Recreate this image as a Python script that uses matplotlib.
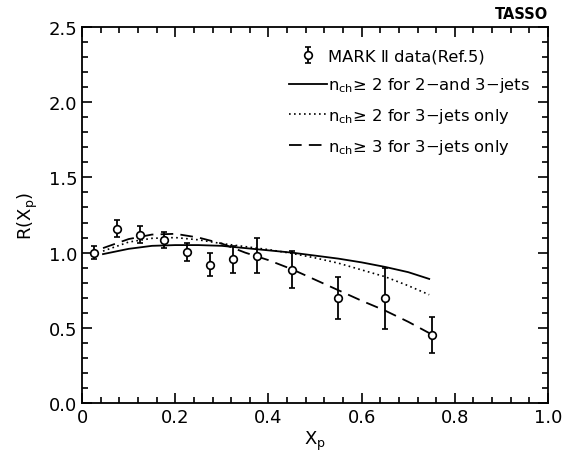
import matplotlib
matplotlib.use("Agg")
import matplotlib.pyplot as plt
import numpy as np
from matplotlib.ticker import MultipleLocator

plt.rcParams['font.family'] = ['DejaVu Sans']
plt.rcParams['mathtext.default'] = 'regular'

# MARK II data points
xp_data = [0.025, 0.075, 0.125, 0.175, 0.225, 0.275, 0.325, 0.375, 0.45, 0.55, 0.65, 0.75]
r_data = [1.00, 1.16, 1.12, 1.085, 1.005, 0.92, 0.955, 0.98, 0.885, 0.70, 0.695, 0.455]
r_err = [0.045, 0.055, 0.055, 0.053, 0.058, 0.075, 0.09, 0.115, 0.123, 0.14, 0.205, 0.12]

# model curves
xp_curve = [0.045, 0.1, 0.15, 0.2, 0.25, 0.3, 0.35, 0.4, 0.45, 0.5, 0.55, 0.6, 0.65, 0.7, 0.745]
r_solid = [0.99, 1.025, 1.045, 1.05, 1.05, 1.045, 1.03, 1.015, 1.0, 0.98, 0.96, 0.935, 0.905, 0.87, 0.825]
r_dotted = [1.01, 1.07, 1.095, 1.10, 1.085, 1.06, 1.04, 1.02, 0.995, 0.965, 0.93, 0.885, 0.84, 0.78, 0.72]
r_dashed = [1.03, 1.09, 1.12, 1.125, 1.10, 1.06, 1.00, 0.95, 0.89, 0.82, 0.75, 0.68, 0.615, 0.54, 0.465]

x_ticks = [0, 0.2, 0.4, 0.6, 0.8, 1.0]
x_ticklabels = ["0", "0.2", "0.4", "0.6", "0.8", "1.0"]
y_ticks = [0.0, 0.5, 1.0, 1.5, 2.0, 2.5]
y_ticklabels = ["0.0", "0.5", "1.0", "1.5", "2.0", "2.5"]

fig = plt.figure(figsize=(5.63, 4.52), dpi=100)
ax = fig.add_axes([0.1457, 0.1062, 0.8277, 0.8318])

eb = ax.errorbar(xp_data, r_data, yerr=r_err, fmt='o', mfc='white', mec='black', color='black',
                 ms=5.5, mew=1.2, elinewidth=1.3, capsize=2.5, capthick=1.3, zorder=3)
l1, = ax.plot(xp_curve, r_solid, '-', color='black', lw=1.3)
l2, = ax.plot(xp_curve, r_dotted, color='black', lw=1.2, linestyle=(0, (1, 2)))
l3, = ax.plot(xp_curve, r_dashed, color='black', lw=1.3, linestyle=(0, (7, 4)))

ax.set_xlim(0, 1.0)
ax.set_ylim(0, 2.5)
ax.set_xticks(x_ticks)
ax.set_xticklabels(x_ticklabels)
ax.set_yticks(y_ticks)
ax.set_yticklabels(y_ticklabels)
ax.xaxis.set_minor_locator(MultipleLocator(0.04))
ax.yaxis.set_minor_locator(MultipleLocator(0.1))
ax.tick_params(which='both', direction='in', top=True, right=True, width=1.2, labelsize=13)
ax.tick_params(which='major', length=7)
ax.tick_params(which='minor', length=4)
for s in ax.spines.values():
    s.set_linewidth(1.3)

ax.set_xlabel('$X_p$', fontsize=13, labelpad=2)
ax.set_ylabel('R($X_p$)', fontsize=13, labelpad=6)

ax.text(1.0, 1.015, 'TASSO', transform=ax.transAxes, ha='right', va='bottom',
        fontsize=10.5, fontweight='bold')

ax.legend([eb, l1, l2, l3],
          ['MARK Ⅱ data(Ref.5)',
           r'$n_{ch}$≥ 2 for 2−and 3−jets',
           r'$n_{ch}$≥ 2 for 3−jets only',
           r'$n_{ch}$≥ 3 for 3−jets only'],
          loc='upper left', bbox_to_anchor=(0.43, 0.96), frameon=False, fontsize=11.8,
          handlelength=2.3, handletextpad=0.1, labelspacing=0.72, borderaxespad=0)

fig.savefig('out.png', dpi=100)
